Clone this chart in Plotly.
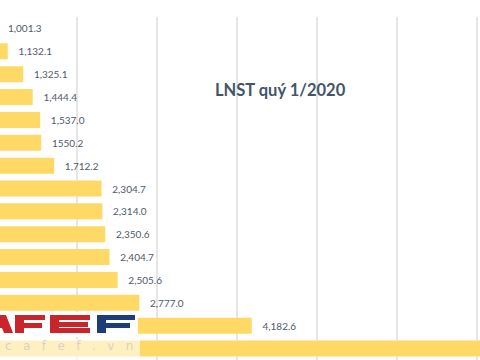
import plotly.graph_objects as go

# Data (category names are cropped off in the reference; ranks are used)
categories = [f"#{i}" for i in range(1, 16)]
values = [1001.3, 1132.1, 1325.1, 1444.4, 1537.0, 1550.2, 1712.2, 2304.7,
          2314.0, 2350.6, 2404.7, 2505.6, 2777.0, 4182.6, 8000.0]
# last bar's label lies beyond the visible crop in the reference
value_labels = ["1,001.3", "1,132.1", "1,325.1", "1,444.4", "1,537.0", "1550.2",
                "1,712.2", "2,304.7", "2,314.0", "2,350.6", "2,404.7", "2,505.6",
                "2,777.0", "4,182.6", ""]
title_text = "LNST quý 1/2020"

W, H = 480, 360
BAR = "#FFD966"
LABEL = "#505a66"
PAD = "\u00a0\u00a0\u00a0"

fig = go.Figure()
fig.add_trace(go.Bar(
    x=values, y=categories, orientation="h",
    marker=dict(color=BAR, line=dict(width=0)),
    width=0.7, hoverinfo="skip",
    text=[(PAD + t) if t else "" for t in value_labels], textposition="outside",
    constraintext="none", cliponaxis=True,
    outsidetextfont=dict(family="Lato", size=10, color=LABEL),
))

fig.update_layout(
    width=W, height=H,
    margin=dict(l=0, r=0, t=17, b=0, autoexpand=False),
    paper_bgcolor="white", plot_bgcolor="white",
    showlegend=False, bargap=0.3,
    xaxis=dict(range=[1035, 7035], dtick=1000, showticklabels=False,
               showgrid=True, gridcolor="#e6e6e6", gridwidth=1.5,
               zeroline=False, showline=False, ticks="", automargin=False),
    yaxis=dict(categoryorder="array", categoryarray=categories,
               range=[14.5, -0.5], showticklabels=False, showgrid=False,
               zeroline=False, showline=False, ticks="", automargin=False),
)

fig.add_annotation(
    text="<b>" + title_text + "</b>", xref="paper", yref="paper",
    x=280 / W, y=1 - (90 - 17) / (H - 17), xanchor="center", yanchor="middle",
    showarrow=False, font=dict(family="Lato", size=16.5, color="#44546a"),
)

# CafeF watermark (decoration)
def py(v):
    return 1 - (v - 17) / (H - 17)

def px(v):
    return v / W

def rect(x0, x1, y0, y1, color, opacity=1.0):
    fig.add_shape(type="rect", xref="paper", yref="paper",
                  x0=px(x0), x1=px(x1), y0=py(y1), y1=py(y0),
                  fillcolor=color, line=dict(width=0), opacity=opacity, layer="above")

RED = "#c9262c"
BLUE = "#1c3c7a"
rect(0, 138, 312, 337, "white")
# A fragment (right leg + crossbar)
fig.add_shape(type="path", xref="paper", yref="paper", layer="above",
              path=f"M {px(0)},{py(315)} L {px(6)},{py(315)} L {px(13)},{py(333)} "
                   f"L {px(4)},{py(333)} L {px(2)},{py(328)} L {px(0)},{py(328)} Z",
              fillcolor=RED, line=dict(width=0))
# F (red)
rect(15, 24, 315, 333, RED)
rect(15, 45, 315, 320, RED)
rect(15, 42, 323, 328, RED)
# E (red)
rect(50, 59, 315, 333, RED)
rect(50, 90, 315, 320, RED)
rect(50, 88, 322, 327, RED)
rect(50, 90, 328, 333, RED)
# F (blue)
rect(97, 106, 315, 333, BLUE)
rect(97, 135, 315, 320, BLUE)
rect(97, 130, 323, 328, BLUE)
# cafef.vn
rect(0, 140, 339, 360, "white", 0.6)
fig.add_annotation(
    text="c   a   f   e   f   .   v   n", xref="paper", yref="paper",
    x=px(3), y=py(346), xanchor="left", yanchor="middle", showarrow=False,
    font=dict(family="DejaVu Sans", size=12, color="#d9d3c3"),
)

fig.write_html("out.html", config={"displayModeBar": False},
               post_script="document.body.style.margin='0';")
